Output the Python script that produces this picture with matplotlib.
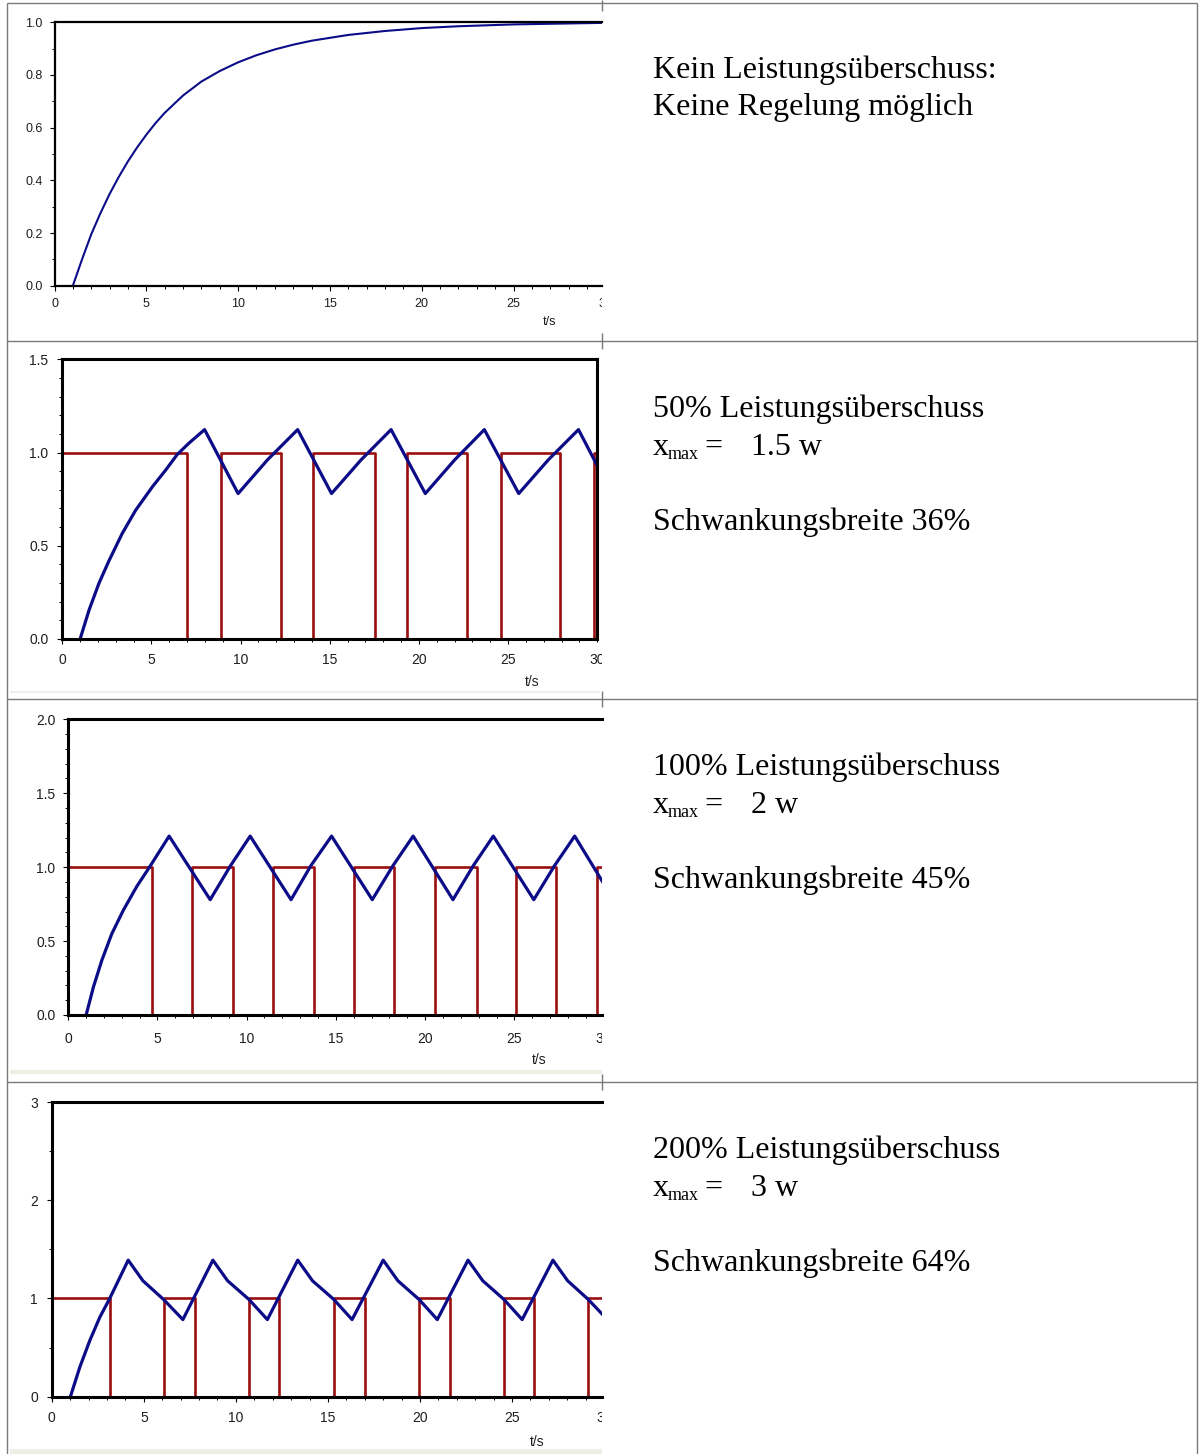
import matplotlib
matplotlib.use('Agg')
import matplotlib.pyplot as plt
from matplotlib.ticker import MultipleLocator, FixedLocator, FormatStrFormatter
from matplotlib.transforms import Bbox, TransformedBbox, offset_copy
from matplotlib.patches import Rectangle

plt.rcParams['font.family'] = ['Liberation Sans', 'DejaVu Sans']

W, H = 1202, 1454
BLUE = '#0c0c88'
RED = '#9a0e0e'
SERIF = ['Liberation Serif', 'DejaVu Serif']

# ---- values ----
# row 1: no power reserve
t1 = [1, 1.5, 2, 2.5, 3, 3.5, 4, 4.5, 5, 5.5, 6, 7, 8, 9, 10, 11, 12, 13, 14,
      16, 18, 20, 22, 25, 30]
x1 = [0, 0.10, 0.195, 0.275, 0.348, 0.413, 0.472, 0.525, 0.573, 0.617, 0.656,
      0.722, 0.775, 0.815, 0.848, 0.875, 0.897, 0.915, 0.93, 0.952, 0.967, 0.978,
      0.985, 0.992, 0.998]

# row 2: 50 % reserve
t2 = [1.0, 1.5, 2.06, 2.62, 3.36, 4.11, 5.05, 5.79, 6.45, 7.1, 7.98, 9.86, 11.5,
      13.2, 15.1, 16.75, 18.44, 20.36, 22.0, 23.67, 25.6, 27.25, 28.95, 30]
x2 = [0, 0.155, 0.30, 0.42, 0.566, 0.69, 0.816, 0.905, 0.99, 1.05, 1.123, 0.78,
      0.96, 1.123, 0.78, 0.96, 1.123, 0.78, 0.96, 1.123, 0.78, 0.96, 1.123, 0.93]
sw2 = [0, 6.98, 8.9, 12.26, 14.07, 17.56, 19.35, 22.69, 24.59, 27.93, 29.83, 30]
u2 = [1, 0, 1, 0, 1, 0, 1, 0, 1, 0, 1, 1]

# row 3: 100 % reserve
t3 = [1.01, 1.42, 1.89, 2.45, 3.1, 3.85, 4.56, 5.66, 7.96, 9.1, 10.2, 12.49, 13.6,
      14.76, 17.04, 18.2, 19.33, 21.56, 22.7, 23.82, 26.09, 27.25, 28.38, 30]
x3 = [0, 0.19, 0.37, 0.55, 0.71, 0.87, 1.0, 1.21, 0.78, 1.01, 1.21, 0.78, 1.01,
      1.21, 0.78, 1.01, 1.21, 0.78, 1.01, 1.21, 0.78, 1.01, 1.21, 0.89]
sw3 = [0, 4.69, 6.95, 9.26, 11.49, 13.75, 16.02, 18.26, 20.53, 22.89, 25.1, 27.35, 29.64, 30]
u3 = [1, 0, 1, 0, 1, 0, 1, 0, 1, 0, 1, 0, 1, 1]

# row 4: 200 % reserve
t4 = [1.01, 1.52, 2.06, 2.61, 3.12, 4.15, 4.95, 6.07, 7.12, 8.75, 9.55, 10.71, 11.71,
      13.36, 14.16, 15.32, 16.31, 18.0, 18.8, 19.95, 20.94, 22.61, 23.41, 24.56, 25.55,
      27.22, 28.02, 29.14, 30]
x4 = [0, 0.30, 0.57, 0.81, 0.99, 1.39, 1.18, 0.99, 0.785, 1.39, 1.18, 0.99, 0.785,
      1.39, 1.18, 0.99, 0.785, 1.39, 1.18, 0.99, 0.785, 1.39, 1.18, 0.99, 0.785,
      1.39, 1.18, 0.99, 0.82]
sw4 = [0, 3.17, 6.07, 7.76, 10.71, 12.34, 15.32, 17.01, 19.95, 21.64, 24.56, 26.2, 29.14, 30]
u4 = [1, 0, 1, 0, 1, 0, 1, 0, 1, 0, 1, 0, 1, 1]

y_tops = [1.0, 1.5, 2.0, 3.0]
x_ticks = [0, 5, 10, 15, 20, 25, 30]

headlines = ['Kein Leistungsüberschuss:', '50% Leistungsüberschuss',
             '100% Leistungsüberschuss', '200% Leistungsüberschuss']
xmax_texts = [None, '1.5 w', '2 w', '3 w']
spread_texts = [None, 'Schwankungsbreite 36%', 'Schwankungsbreite 45%',
                'Schwankungsbreite 64%']

# ---- layout (pixels) ----
# left, px per second, top, bottom, right
boxes = [(54.5, 18.36, 22.3, 285.7, 602),
         (62.3, 17.83, 359.3, 639.0, 597.2),
         (68.1, 17.85, 719.3, 1015.0, 602),
         (51.8, 18.41, 1102.0, 1396.7, 602)]
ymajor = [0.2, 0.5, 0.5, 1.0]
yminor = [0.1, 0.1, 0.1, 0.5]
yfmt = ['%.1f', '%.1f', '%.1f', '%d']
fsize = [9, 10, 10, 10]
xpad = [5, 6.5, 8.5, 7]
ypad = [5, 6.5, 5.5, 6.5]
spine_w = [1.6, 2.2, 2.2, 2.2]
blue_w = [1.5, 2.3, 2.3, 2.3]
ts_pos = [(550, 322), (532, 682), (539, 1060), (537, 1442)]
row_lines = [3, 341, 699, 1082]
base1 = [78, 417, 775, 1158]

series = [(t1, x1, None, None), (t2, x2, sw2, u2), (t3, x3, sw3, u3), (t4, x4, sw4, u4)]

fig = plt.figure(figsize=(W / 100, H / 100), dpi=100)
bg = fig.add_axes([0, 0, 1, 1], zorder=0)
bg.set_xlim(0, W)
bg.set_ylim(H, 0)
bg.axis('off')

# table frame
bg.vlines([7, 1197], 3, H, color='#7a7a7a', lw=1.0)
bg.hlines(row_lines, 7, 1197, color='#7a7a7a', lw=1.0)
for y in row_lines:
    bg.vlines(602, max(y - 8, 0), y + 8, color='#7a7a7a', lw=1.0)
bg.add_patch(Rectangle((10, 691), 590, 2, color='#efefef', lw=0))
bg.add_patch(Rectangle((10, 1070), 592, 4, color='#efeee4', lw=0))
bg.add_patch(Rectangle((10, 1449), 592, 5, color='#efeee4', lw=0))

clipbox = TransformedBbox(Bbox.from_extents(0, 0, 602 / W, 1), fig.transFigure)

for i, (t, x, sw, u) in enumerate(series):
    left, pps, top, bottom, right = boxes[i]
    ax = fig.add_axes([left / W, 1 - bottom / H, (right - left) / W, (bottom - top) / H],
                      zorder=2)
    ax.set_xlim(0, (right - left) / pps)
    ax.set_ylim(0, y_tops[i])
    if sw is not None:
        ax.step(sw, u, where='post', color=RED, lw=1.9, zorder=2)
    ax.plot(t, x, color=BLUE, lw=blue_w[i], zorder=3)

    for s in ax.spines.values():
        s.set_linewidth(spine_w[i])
        s.set_color('black')
        s.set_zorder(4)
    if i != 1:
        ax.spines['right'].set_visible(False)

    ax.xaxis.set_major_locator(FixedLocator([v for v in x_ticks if v < 30]))
    ax.xaxis.set_minor_locator(MultipleLocator(1))
    ax.yaxis.set_major_locator(MultipleLocator(ymajor[i]))
    ax.yaxis.set_minor_locator(MultipleLocator(yminor[i]))
    ax.yaxis.set_major_formatter(FormatStrFormatter(yfmt[i]))
    ax.tick_params(which='major', length=3.6, width=0.8, direction='out',
                   labelsize=fsize[i], labelcolor='#1e1e1e', top=False, right=False)
    ax.tick_params(which='minor', length=2.0, width=0.7, direction='out',
                   top=False, right=False)
    ax.tick_params(axis='x', which='major', pad=xpad[i])
    ax.tick_params(axis='y', which='major', pad=ypad[i])

    # last x label, cut off by the table column like in the original
    tr = offset_copy(ax.get_xaxis_transform(), fig=fig, y=-(3.6 + xpad[i]), units='points')
    lab = fig.text(30, 0, '30', transform=tr, ha='center', va='top',
                   fontsize=fsize[i], color='#1e1e1e', clip_on=True, zorder=5)
    lab.set_clip_box(clipbox)

    bg.text(ts_pos[i][0], ts_pos[i][1], 't/s', ha='center', va='center',
            fontsize=fsize[i], color='#1e1e1e')

    # right column text
    b = base1[i]
    bg.text(653, b, headlines[i], fontsize=23, family=SERIF, va='baseline')
    if i == 0:
        bg.text(653, b + 37, 'Keine Regelung möglich', fontsize=23, family=SERIF,
                va='baseline')
    else:
        b2 = b + 38
        bg.text(653, b2, 'x', fontsize=23, family=SERIF, va='baseline')
        bg.text(668, b2 + 4, 'max', fontsize=13, family=SERIF, va='baseline')
        bg.text(704, b2, '=', fontsize=23, family=SERIF, va='baseline')
        bg.text(751, b2, xmax_texts[i], fontsize=23, family=SERIF, va='baseline')
        bg.text(653, b + 113, spread_texts[i], fontsize=23, family=SERIF, va='baseline')

fig.savefig('out.png', dpi=100)
